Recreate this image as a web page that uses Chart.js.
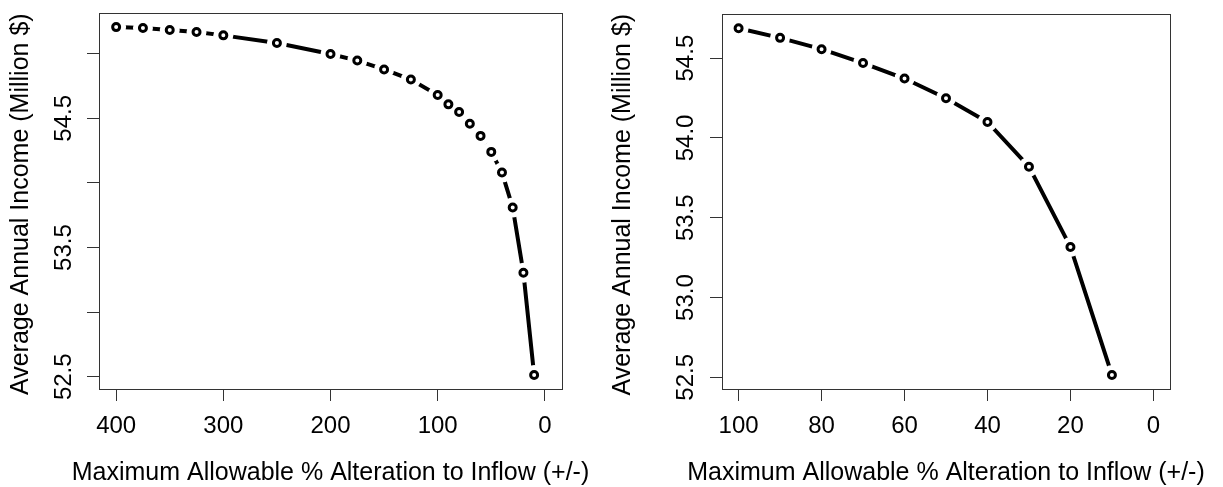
<!DOCTYPE html>
<html>
<head>
<meta charset="utf-8">
<script src="https://cdn.jsdelivr.net/npm/chart.js@4/dist/chart.umd.min.js"></script>
<style>
  body { margin: 0; background: #fff; }
  #wrap { position: relative; width: 1223px; height: 487px; }
  canvas { position: absolute; top: 0; }
</style>
</head>
<body>
<div id="wrap">
  <canvas id="esquerda" width="600" height="487" style="left:0px"></canvas>
  <canvas id="direita" width="612" height="487" style="left:611px"></canvas>
</div>
<script>
// painel esquerdo (0 a 400 %)
var alteracaoEsq = [400, 375, 350, 325, 300, 250, 200, 175, 150, 125, 100, 90, 80, 70, 60, 50, 40, 30, 20, 10];
var rendaEsq = [55.206, 55.199, 55.183, 55.168, 55.142, 55.083, 54.998, 54.947, 54.878, 54.800,
                54.680, 54.608, 54.549, 54.458, 54.364, 54.240, 54.080, 53.810, 53.305, 52.513];
var ticksXEsq = [400, 300, 200, 100, 0];
var ticksYEsq = [52.5, 53.0, 53.5, 54.0, 54.5, 55.0];
var rotulosYEsq = ['52.5', '', '53.5', '', '54.5', ''];

// painel direito (0 a 100 %)
var alteracaoDir = [100, 90, 80, 70, 60, 50, 40, 30, 20, 10];
var rendaDir = [54.687, 54.627, 54.556, 54.469, 54.372, 54.249, 54.100, 53.820, 53.317, 52.515];
var ticksXDir = [100, 80, 60, 40, 20, 0];
var ticksYDir = [52.5, 53.0, 53.5, 54.0, 54.5];
var rotulosYDir = ['52.5', '53.0', '53.5', '54.0', '54.5'];

var tituloX = 'Maximum Allowable % Alteration to Inflow (+/-)';
var tituloY = 'Average Annual Income (Million $)';

var fonte = '"Liberation Sans", Arial, sans-serif';
Chart.defaults.font.family = fonte;
Chart.defaults.font.size = 24;
Chart.defaults.color = '#000';

// caixa em volta da area do grafico (como box() do R) e titulos dos eixos
var caixa = {
	id: 'caixa',
	afterDraw: function(chart, args, opts) {
		var a = chart.chartArea, c = chart.ctx;
		c.save();
		c.strokeStyle = '#333';
		c.lineWidth = 1;
		c.strokeRect(Math.round(a.left) + 0.5, Math.round(a.top) + 0.5,
			Math.round(a.right - a.left), Math.round(a.bottom - a.top));

		// titulos sem compressao (o titulo do eixo do Chart.js encolhe o texto)
		c.fillStyle = '#000';
		c.font = '25px ' + fonte;
		c.textAlign = 'center';
		c.textBaseline = 'alphabetic';
		c.fillText(tituloX, (a.left + a.right) / 2, 480);
		c.translate(opts.xTituloY, (a.top + a.bottom) / 2 + 3);
		c.rotate(-Math.PI / 2);
		c.fillText(tituloY, 0, 0);
		c.restore();
	}
};

function pontos(xs, ys) {
	return xs.map(function(x, i) { return {x: x, y: ys[i]}; });
}

function criaGrafico(id, xs, ys, cfg) {
	var dados = pontos(xs, ys);
	return new Chart(document.getElementById(id), {
		type: 'line',
		data: {
			datasets: [{
				// linha
				data: dados,
				borderColor: '#000',
				borderWidth: 4,
				borderCapStyle: 'round',
				pointRadius: 0,
				tension: 0,
				order: 3
			}, {
				// espaco branco em volta dos pontos (type = "b")
				data: dados,
				showLine: false,
				pointRadius: 10,
				pointBorderWidth: 0,
				pointBackgroundColor: '#fff',
				pointBorderColor: '#fff',
				order: 2
			}, {
				// circulos abertos
				data: dados,
				showLine: false,
				pointRadius: 3.5,
				pointBorderWidth: 3,
				pointBackgroundColor: '#fff',
				pointBorderColor: '#000',
				order: 1
			}]
		},
		options: {
			responsive: false,
			animation: false,
			events: [],
			layout: { padding: { top: 12, right: cfg.dir, left: 0, bottom: 0 } },
			plugins: {
				legend: { display: false },
				tooltip: { enabled: false },
				caixa: { xTituloY: cfg.xTituloY }
			},
			scales: {
				x: {
					type: 'linear',
					reverse: true,
					min: cfg.xmin,
					max: cfg.xmax,
					afterBuildTicks: function(s) { s.ticks = cfg.ticksX.map(function(v) { return {value: v}; }); },
					afterFit: function(s) { s.height = 98; },
					grid: { drawOnChartArea: false, tickLength: 12, color: '#333' },
					border: { display: false },
					ticks: { padding: 11, maxRotation: 0, autoSkip: false }
				},
				y: {
					type: 'linear',
					min: cfg.ymin,
					max: cfg.ymax,
					afterBuildTicks: function(s) { s.ticks = cfg.ticksY.map(function(v) { return {value: v}; }); },
					afterFit: function(s) { s.width = cfg.largY; },
					grid: { drawOnChartArea: false, tickLength: 12, color: '#333' },
					border: { display: false },
					ticks: {
						padding: cfg.padY,
						minRotation: 90,
						maxRotation: 90,
						crossAlign: 'center',
						autoSkip: false,
						callback: function(v, i) { return cfg.rotulosY[i]; }
					}
				}
			}
		},
		plugins: [caixa]
	});
}

criaGrafico('esquerda', alteracaoEsq, rendaEsq, {
	xmin: -16, xmax: 416, ymin: 52.405, ymax: 55.312,
	ticksX: ticksXEsq, ticksY: ticksYEsq, rotulosY: rotulosYEsq,
	largY: 99, dir: 38, padY: -1, xTituloY: 28
});

criaGrafico('direita', alteracaoDir, rendaDir, {
	xmin: -4, xmax: 104, ymin: 52.427, ymax: 54.774,
	ticksX: ticksXDir, ticksY: ticksYDir, rotulosY: rotulosYDir,
	largY: 111, dir: 53, padY: 0, xTituloY: 19
});
</script>
</body>
</html>
